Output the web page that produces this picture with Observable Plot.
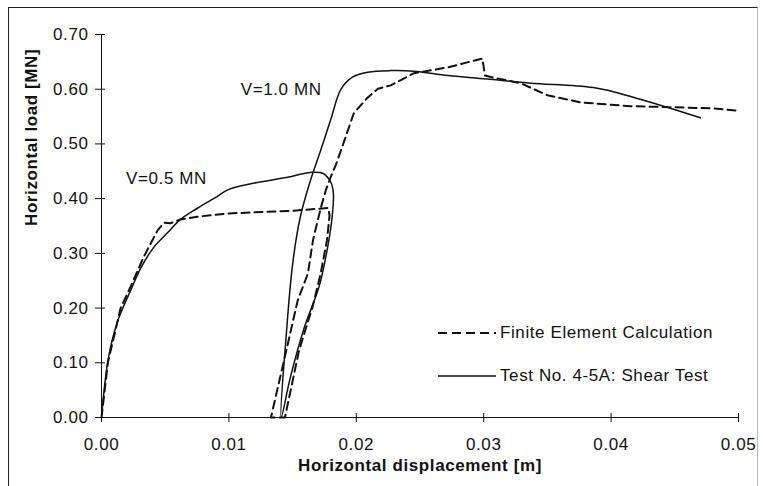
<!DOCTYPE html>
<html>
<head>
<meta charset="utf-8">
<script src="https://cdn.jsdelivr.net/npm/d3@7"></script>
<script src="https://cdn.jsdelivr.net/npm/@observablehq/plot@0.6"></script>
<style>
  html, body { margin: 0; padding: 0; background: #fff; }
  #wrap { position: relative; width: 763px; height: 486px; overflow: hidden; font-family: "Liberation Sans", Arial, sans-serif; }
  #border { position: absolute; left: 8px; top: 7px; width: 750px; height: 490px; border-left: 1.5px solid #222; border-top: 1.5px solid #222; border-right: 1px solid #bbb; box-sizing: border-box; pointer-events: none; }
  #legend { position: absolute; left: 438px; top: 318px; font-size: 17px; letter-spacing: 0.6px; color: #111; }
  .item { display: flex; align-items: center; height: 30px; margin-bottom: 13px; }
  .item svg { margin-right: 4px; }
</style>
</head>
<body>
<div id="wrap">
  <div id="chart"></div>
  <div id="border"></div>
  <div id="legend"></div>
</div>
<script>
// Finite element calculation (dashed)
const feX = [0, 0.0005, 0.0015, 0.0024, 0.0033, 0.0044, 0.0049, 0.0054, 0.0062, 0.0075, 0.0100, 0.0151, 0.0178,
  0.0179, 0.0177, 0.0172, 0.0166, 0.0155, 0.0144, 0.0133,
  0.0145, 0.0154, 0.0162, 0.0166, 0.0172, 0.0176, 0.0180, 0.0184, 0.0193, 0.0198, 0.0209, 0.0217, 0.0227,
  0.0245, 0.0272, 0.0287, 0.0299, 0.0301, 0.0308, 0.0329, 0.0350, 0.0376, 0.0415, 0.0449, 0.0480, 0.0499];
const feY = [0, 0.10, 0.20, 0.245, 0.293, 0.342, 0.356, 0.355, 0.362, 0.367, 0.373, 0.378, 0.383,
  0.369, 0.324, 0.263, 0.205, 0.122, 0.0, 0.0,
  0.122, 0.214, 0.263, 0.324, 0.382, 0.415, 0.440, 0.462, 0.522, 0.556, 0.585, 0.601, 0.607,
  0.629, 0.640, 0.649, 0.656, 0.625, 0.621, 0.611, 0.589, 0.576, 0.569, 0.567, 0.565, 0.561];

// Test No. 4-5A: Shear Test (solid)
const testX = [0, 0.00055, 0.0013, 0.0024, 0.0031, 0.0041, 0.0052, 0.0062, 0.0075, 0.0088, 0.0100, 0.0119, 0.0146, 0.0164, 0.0174,
  0.0180, 0.0182, 0.0181, 0.0178, 0.0171, 0.0159, 0.0148, 0.0141,
  0.0145, 0.0150, 0.0156, 0.0164, 0.0172, 0.0180, 0.0188, 0.0197, 0.0209, 0.0227, 0.0245, 0.0272, 0.0305, 0.0337,
  0.0386, 0.0418, 0.0444, 0.0470];
const testY = [0, 0.11, 0.178, 0.238, 0.274, 0.311, 0.338, 0.362, 0.382, 0.400, 0.417, 0.428, 0.439, 0.448, 0.446,
  0.430, 0.410, 0.366, 0.318, 0.241, 0.163, 0.071, 0.0,
  0.150, 0.280, 0.366, 0.433, 0.488, 0.545, 0.600, 0.622, 0.631, 0.634, 0.633, 0.625, 0.618, 0.611,
  0.603, 0.585, 0.567, 0.548];

const xTicks = [0, 0.01, 0.02, 0.03, 0.04, 0.05];
const yTicks = [0, 0.1, 0.2, 0.3, 0.4, 0.5, 0.6, 0.7];

const annLabels = ["V=1.0 MN", "V=0.5 MN"];
const annX = [0.0141, 0.0051];
const annY = [0.60, 0.437];

const seriesNames = ["Finite Element Calculation", "Test No. 4-5A: Shear Test"];

const fe = feX.map((x, i) => ({x, y: feY[i]}));
const test = testX.map((x, i) => ({x, y: testY[i]}));
const ann = annLabels.map((t, i) => ({t, x: annX[i], y: annY[i]}));

const W = 763, H = 486, mT = 34, mR = 25, mB = 69, mL = 101;
const fw = W - mL - mR, fh = H - mT - mB;

const chart = Plot.plot({
  width: W, height: H,
  marginTop: mT, marginRight: mR, marginBottom: mB, marginLeft: mL,
  style: {fontFamily: "'Liberation Sans', Arial, sans-serif", fontSize: "17px", letterSpacing: "0.6px", color: "#111", background: "transparent"},
  x: {domain: [0, 0.05]},
  y: {domain: [0, 0.7]},
  marks: [
    Plot.axisX(xTicks, {tickSize: 5, tickPadding: 15, tickFormat: d3.format(".2f"), fontSize: 17, label: null}),
    Plot.axisY(yTicks, {tickSize: 6, tickPadding: 7, tickFormat: d3.format(".2f"), fontSize: 17, label: null}),
    Plot.tickX(xTicks, {x: d => d, insetTop: fh - 4, stroke: "#111"}),
    Plot.tickY(yTicks, {y: d => d, insetRight: fw - 4, stroke: "#111"}),
    Plot.ruleX([0], {stroke: "#111"}),
    Plot.ruleY([0], {stroke: "#111"}),
    Plot.line(fe, {x: "x", y: "y", stroke: "#111", strokeWidth: 2, strokeDasharray: "8,5"}),
    Plot.line(test, {x: "x", y: "y", stroke: "#111", strokeWidth: 1.5, curve: "catmull-rom", clip: true}),
    Plot.text(ann, {x: "x", y: "y", text: "t", fontSize: 17, fill: "#111"}),
    Plot.text(["Horizontal displacement [m]"], {frameAnchor: "bottom", dy: 53, fontSize: 17, fontWeight: "bold", fill: "#111"}),
    Plot.text(["Horizontal load [MN]"], {frameAnchor: "left", dx: -70, rotate: -90, fontSize: 17, fontWeight: "bold", fill: "#111"})
  ]
});
document.getElementById("chart").appendChild(chart);

// legend
const legend = document.getElementById("legend");
seriesNames.forEach((name, i) => {
  const div = document.createElement("div");
  div.className = "item";
  const dash = i === 0 ? 'stroke-dasharray="9,5"' : "";
  div.innerHTML = `<svg width="58" height="4"><line x1="0" y1="2" x2="58" y2="2" stroke="#111" stroke-width="${i === 0 ? 2 : 1.5}" ${dash}/></svg><span>${name}</span>`;
  legend.appendChild(div);
});
</script>
</body>
</html>
